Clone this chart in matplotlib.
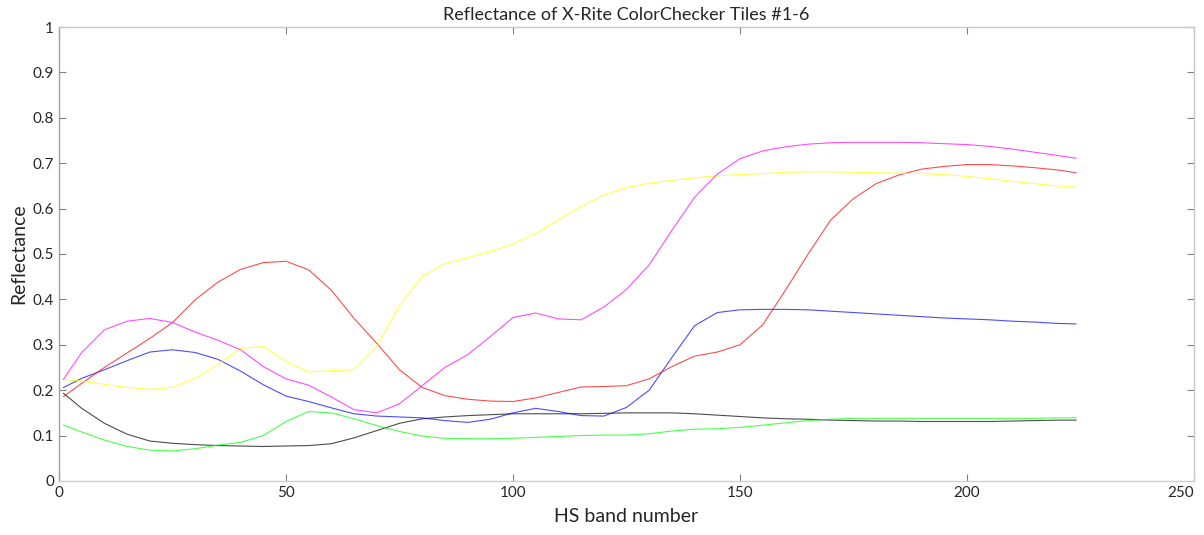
import matplotlib
matplotlib.use("Agg")
import matplotlib.pyplot as plt

bands = [1, 5, 10, 15, 20, 25, 30, 35, 40, 45, 50, 55, 60, 65, 70, 75, 80, 85, 90, 95,
         100, 105, 110, 115, 120, 125, 130, 135, 140, 145, 150, 155, 160, 165, 170, 175,
         180, 185, 190, 195, 200, 205, 210, 215, 220, 224]

tile_black = [0.193, 0.160, 0.127, 0.103, 0.088, 0.083, 0.080, 0.078, 0.077, 0.076,
              0.077, 0.078, 0.082, 0.095, 0.111, 0.127, 0.137, 0.141, 0.144, 0.146,
              0.148, 0.148, 0.148, 0.148, 0.149, 0.150, 0.150, 0.150, 0.148, 0.145,
              0.142, 0.139, 0.137, 0.136, 0.134, 0.133, 0.132, 0.132, 0.131, 0.131,
              0.131, 0.131, 0.132, 0.133, 0.134, 0.134]

tile_green = [0.123, 0.108, 0.090, 0.076, 0.068, 0.066, 0.071, 0.079, 0.085, 0.100,
              0.131, 0.153, 0.150, 0.137, 0.122, 0.109, 0.099, 0.094, 0.093, 0.093,
              0.094, 0.096, 0.098, 0.100, 0.101, 0.101, 0.104, 0.110, 0.114, 0.115,
              0.118, 0.123, 0.128, 0.133, 0.136, 0.138, 0.138, 0.138, 0.138, 0.138,
              0.138, 0.138, 0.138, 0.138, 0.139, 0.139]

tile_blue = [0.206, 0.226, 0.245, 0.265, 0.284, 0.289, 0.283, 0.268, 0.242, 0.212,
             0.187, 0.175, 0.161, 0.148, 0.143, 0.141, 0.139, 0.133, 0.129, 0.136,
             0.150, 0.160, 0.153, 0.144, 0.143, 0.162, 0.200, 0.272, 0.342, 0.371,
             0.377, 0.378, 0.378, 0.377, 0.374, 0.371, 0.368, 0.365, 0.362, 0.359,
             0.357, 0.355, 0.352, 0.350, 0.347, 0.346]

tile_red = [0.186, 0.215, 0.250, 0.282, 0.314, 0.349, 0.399, 0.438, 0.466, 0.481,
            0.484, 0.465, 0.420, 0.358, 0.303, 0.245, 0.206, 0.188, 0.180, 0.176,
            0.175, 0.183, 0.195, 0.207, 0.208, 0.210, 0.225, 0.252, 0.275, 0.284,
            0.300, 0.344, 0.420, 0.500, 0.575, 0.622, 0.655, 0.674, 0.687, 0.693,
            0.697, 0.697, 0.694, 0.690, 0.685, 0.679]

tile_yellow = [0.224, 0.220, 0.213, 0.206, 0.202, 0.206, 0.226, 0.256, 0.292, 0.296,
               0.263, 0.240, 0.243, 0.245, 0.296, 0.387, 0.450, 0.479, 0.492, 0.505,
               0.522, 0.545, 0.575, 0.605, 0.630, 0.646, 0.656, 0.662, 0.668, 0.672,
               0.675, 0.677, 0.680, 0.681, 0.681, 0.680, 0.679, 0.678, 0.677, 0.675,
               0.671, 0.666, 0.660, 0.655, 0.650, 0.647]

tile_magenta = [0.224, 0.283, 0.333, 0.352, 0.358, 0.349, 0.328, 0.310, 0.289, 0.252,
                0.225, 0.211, 0.185, 0.157, 0.150, 0.170, 0.210, 0.250, 0.278, 0.318,
                0.360, 0.370, 0.357, 0.355, 0.383, 0.422, 0.476, 0.552, 0.625, 0.676,
                0.710, 0.727, 0.736, 0.742, 0.745, 0.746, 0.746, 0.746, 0.745, 0.743,
                0.741, 0.737, 0.731, 0.724, 0.717, 0.711]

series = [(tile_black, "#000000"), (tile_green, "#00ff00"), (tile_blue, "#0000ff"),
          (tile_red, "#ff0000"), (tile_yellow, "#ffff00"), (tile_magenta, "#ff00ff")]

plt.rcParams["font.family"] = ["Lato", "DejaVu Sans"]

fig = plt.figure(figsize=(12.04, 5.35), dpi=100)
ax = fig.add_axes([0.049, 0.101, 0.9427, 0.8485])

for values, color in series:
    ax.plot(bands, values, color=color, linewidth=0.8, alpha=0.7)

ax.set_xlim(0, 250)
ax.set_ylim(0, 1)
ax.set_xticks([0, 50, 100, 150, 200, 250])
ax.set_yticks([i / 10 for i in range(11)])
ax.set_yticklabels(["0", "0.1", "0.2", "0.3", "0.4", "0.5", "0.6", "0.7", "0.8", "0.9", "1"])

for side in ax.spines.values():
    side.set_color("#c8c8c8")
    side.set_linewidth(1.0)
ax.spines["left"].set_color("#a0a0a0")
ax.spines["bottom"].set_color("#d0d0d0")

ax.tick_params(direction="in", length=5, width=0.8, colors="#808080",
               labelcolor="#262626", labelsize=11, top=True, right=True)
# last x label sits against the right edge, as in the source figure
ax.get_xticklabels()[-1].set_horizontalalignment("right")

ax.set_title("Reflectance of X-Rite ColorChecker Tiles #1-6", fontsize=13,
             color="#262626", pad=5)
ax.set_xlabel("HS band number", fontsize=14, color="#262626", labelpad=6)
ax.set_ylabel("Reflectance", fontsize=14, color="#262626", labelpad=4)

fig.savefig("out.png", dpi=100)
